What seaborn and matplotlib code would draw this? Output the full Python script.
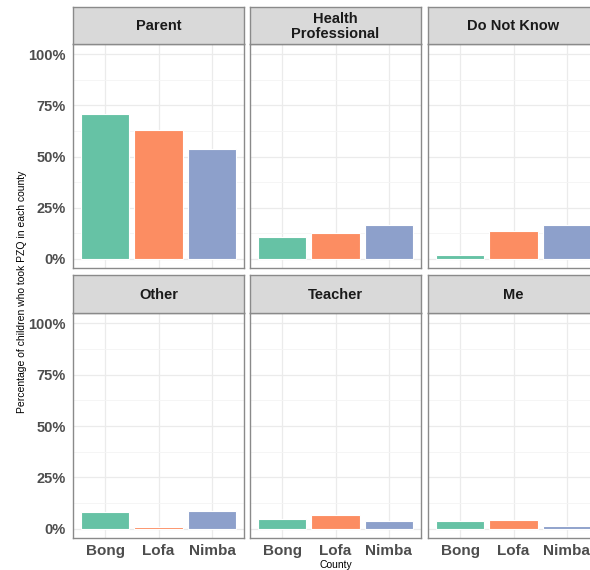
import matplotlib
matplotlib.use("Agg")
import matplotlib.pyplot as plt
import pandas as pd
import seaborn as sns

sources = ["Parent", "Health\nProfessional", "Do Not Know", "Other", "Teacher", "Me"]
counties = ["Bong", "Lofa", "Nimba"]
parent = [0.71, 0.63, 0.535]
health = [0.105, 0.125, 0.167]
dont_know = [0.02, 0.135, 0.167]
other = [0.081, 0.008, 0.086]
teacher = [0.049, 0.065, 0.037]
me = [0.037, 0.041, 0.011]

values = [parent, health, dont_know, other, teacher, me]
rows = []
for src, vals in zip(sources, values):
    for c, v in zip(counties, vals):
        rows.append([src, c, v])
df = pd.DataFrame(rows, columns=["Source", "County", "pct"])

sns.set_style("white")
plt.rcParams["font.family"] = ["Liberation Sans", "DejaVu Sans"]

palette = dict(zip(counties, ["#66C2A5", "#FC8D62", "#8DA0CB"]))

W, H = 590, 570
fig = plt.figure(figsize=(W / 100, H / 100), dpi=100)

col_left = [73, 250, 428]
panel_w = 171
# (strip top, panel top, panel bottom) in pixels
row_geo = [(7, 44, 268), (275, 313, 538)]

for i, src in enumerate(sources):
    r, c = divmod(i, 3)
    st, pt, pb = row_geo[r]
    x0 = col_left[c] / W
    ax = fig.add_axes([x0, 1 - pb / H, panel_w / W, (pb - pt) / H])
    sub = df[df["Source"] == src]
    sns.barplot(data=sub, x="County", y="pct", hue="County", palette=palette,
                order=counties, hue_order=counties, width=0.9, ax=ax,
                saturation=1, edgecolor="white", linewidth=0.8, legend=False,
                errorbar=None, zorder=3)
    ax.set_xlim(-0.6, 2.6)
    ax.set_ylim(-0.045, 1.05)
    ax.set_yticks([0, 0.25, 0.5, 0.75, 1.0])
    ax.set_yticks([0.125, 0.375, 0.625, 0.875], minor=True)
    ax.grid(True, which="major", color="#EBEBEB", linewidth=0.9, zorder=0)
    ax.grid(True, which="minor", axis="y", color="#F4F4F4", linewidth=0.6, zorder=0)
    ax.set_axisbelow(True)
    for sp in ax.spines.values():
        sp.set_color("#8A8A8A")
        sp.set_linewidth(1.0)
    ax.tick_params(axis="both", which="major", length=3, color="#8A8A8A",
                   labelsize=10.5, labelcolor="#4D4D4D", width=0.8, pad=2)
    ax.tick_params(which="minor", length=0)
    if c == 0:
        ax.set_yticklabels(["0%", "25%", "50%", "75%", "100%"], fontweight="bold")
    else:
        ax.set_yticklabels([])
        ax.tick_params(axis="y", length=0)
    if r == 1:
        ax.set_xticks(range(3))
        ax.set_xticklabels(counties, fontweight="bold", fontsize=11)
        ax.tick_params(axis="x", pad=1)
    else:
        ax.set_xticklabels([])
        ax.tick_params(axis="x", length=0)
    ax.set_xlabel("")
    ax.set_ylabel("")

    # facet strip
    sax = fig.add_axes([x0, 1 - pt / H, panel_w / W, (pt - st) / H])
    sax.set_facecolor("#D9D9D9")
    sax.set_xticks([])
    sax.set_yticks([])
    for sp in sax.spines.values():
        sp.set_color("#8A8A8A")
        sp.set_linewidth(1.0)
    sax.text(0.5, 0.48, src, ha="center", va="center", fontsize=10.5,
             fontweight="bold", color="#1A1A1A", linespacing=1.1,
             transform=sax.transAxes)

fig.text(22 / W, 1 - 292 / H, "Percentage of children who took PZQ in each county",
         rotation=90, ha="center", va="center", fontsize=7.5, color="black")
fig.text((250 + panel_w / 2) / W, 1 - 565 / H, "County",
         ha="center", va="center", fontsize=7.5, color="black")

fig.savefig("out.png", dpi=100, facecolor="white")
